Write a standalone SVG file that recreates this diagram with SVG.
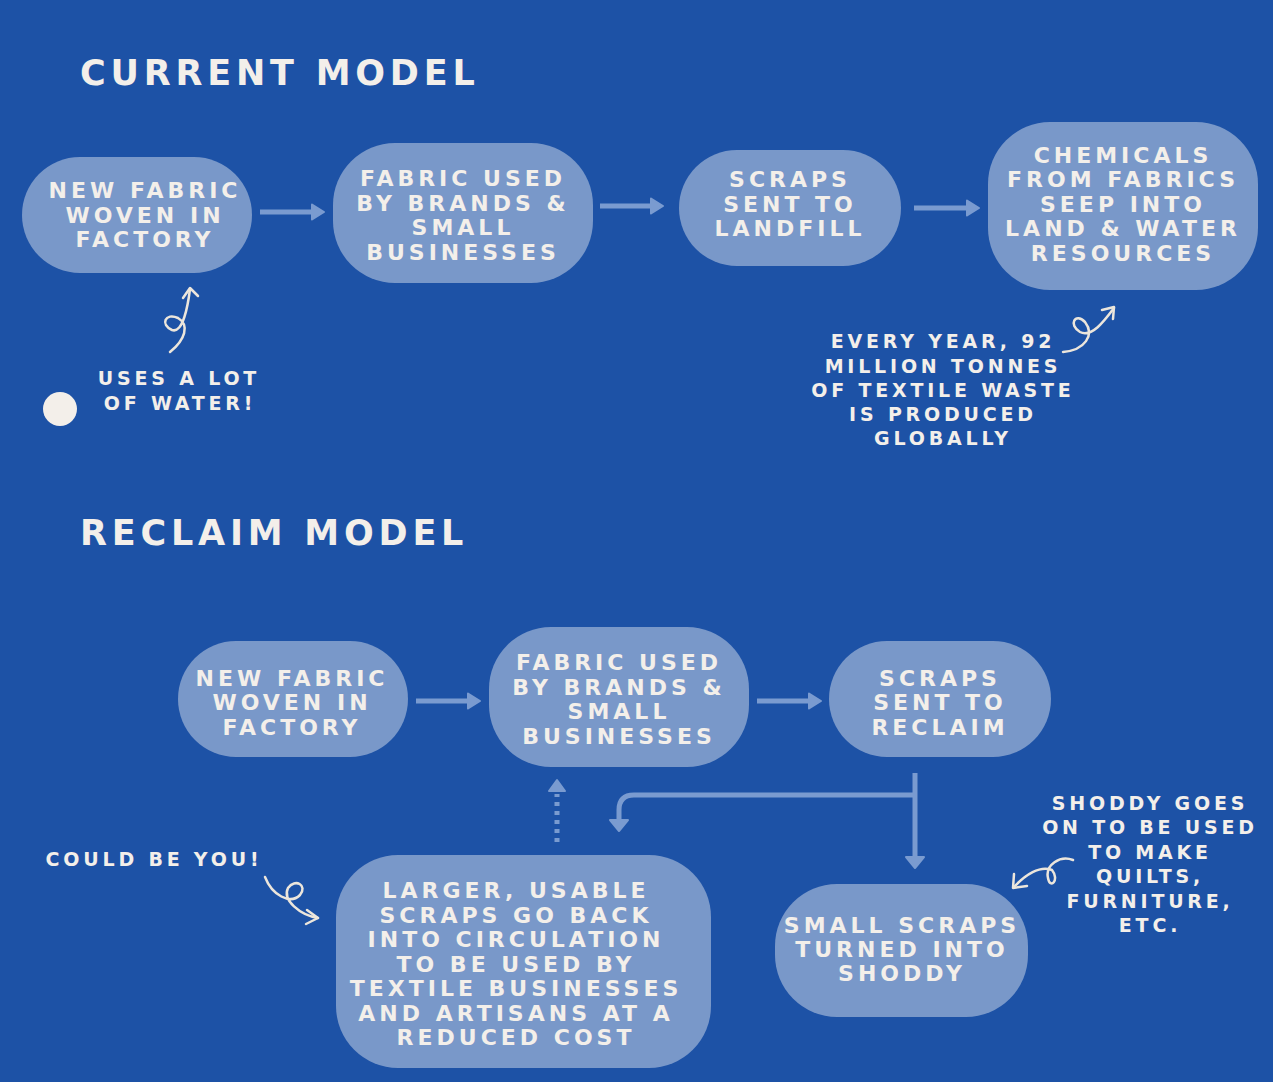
<svg xmlns="http://www.w3.org/2000/svg" width="1273" height="1082" viewBox="0 0 1273 1082">
<style>
.node{fill:#7998c9}
.nt{font-family:"DejaVu Sans","Liberation Sans",sans-serif;font-weight:bold;font-size:22px;letter-spacing:4px;fill:#f3efea;text-anchor:middle}
.title{font-family:"DejaVu Sans","Liberation Sans",sans-serif;font-weight:bold;font-size:35px;letter-spacing:4.8px;fill:#f3efea}
.hand{font-family:"DejaVu Sans","Liberation Sans",sans-serif;font-weight:bold;font-size:19px;letter-spacing:3.8px;fill:#f3efea;text-anchor:middle}
.conn{stroke:#7a9bd0;fill:none;stroke-width:5}
.curl{stroke:#ece6dc;fill:none;stroke-width:2.5;stroke-linecap:round;stroke-linejoin:round}
</style>
<defs>
<marker id="ah" markerUnits="userSpaceOnUse" markerWidth="16" markerHeight="18" refX="2" refY="9" orient="auto">
<path d="M1,1.5 L13,9 L1,16.5 Z" fill="#7a9bd0" stroke="#7a9bd0" stroke-width="2" stroke-linejoin="round"/>
</marker>
</defs>
<rect x="0" y="0" width="1273" height="1082" fill="#1d52a6"/>
<text class="title" x="80" y="85">CURRENT MODEL</text>
<text class="title" x="80" y="545">RECLAIM MODEL</text>

<g id="c1"><rect class="node" x="22" y="157" width="230" height="116" rx="58"/>
<text class="nt" x="145" y="198">NEW FABRIC</text><text class="nt" x="145" y="223">WOVEN IN</text><text class="nt" x="145" y="247">FACTORY</text></g>
<g id="c2"><rect class="node" x="333" y="143" width="260" height="140" rx="62"/>
<text class="nt" x="463" y="186">FABRIC USED</text><text class="nt" x="463" y="211">BY BRANDS &amp;</text><text class="nt" x="463" y="235">SMALL</text><text class="nt" x="463" y="260">BUSINESSES</text></g>
<g id="c3"><rect class="node" x="679" y="150" width="222" height="116" rx="58"/>
<text class="nt" x="790" y="187">SCRAPS</text><text class="nt" x="790" y="212">SENT TO</text><text class="nt" x="790" y="236">LANDFILL</text></g>
<g id="c4"><rect class="node" x="988" y="122" width="270" height="168" rx="62"/>
<text class="nt" x="1123" y="163">CHEMICALS</text><text class="nt" x="1123" y="187">FROM FABRICS</text><text class="nt" x="1123" y="212">SEEP INTO</text><text class="nt" x="1123" y="236">LAND &amp; WATER</text><text class="nt" x="1123" y="261">RESOURCES</text></g>

<g id="r1"><rect class="node" x="178" y="641" width="230" height="116" rx="58"/>
<text class="nt" x="292" y="686">NEW FABRIC</text><text class="nt" x="292" y="710">WOVEN IN</text><text class="nt" x="292" y="735">FACTORY</text></g>
<g id="r2"><rect class="node" x="489" y="627" width="260" height="140" rx="62"/>
<text class="nt" x="619" y="670">FABRIC USED</text><text class="nt" x="619" y="695">BY BRANDS &amp;</text><text class="nt" x="619" y="719">SMALL</text><text class="nt" x="619" y="744">BUSINESSES</text></g>
<g id="r3"><rect class="node" x="829" y="641" width="222" height="116" rx="58"/>
<text class="nt" x="940" y="686">SCRAPS</text><text class="nt" x="940" y="710">SENT TO</text><text class="nt" x="940" y="735">RECLAIM</text></g>
<g id="r4"><rect class="node" x="336" y="855" width="375" height="213" rx="62"/>
<text class="nt" x="516" y="898">LARGER, USABLE</text><text class="nt" x="516" y="923">SCRAPS GO BACK</text><text class="nt" x="516" y="947">INTO CIRCULATION</text><text class="nt" x="516" y="972">TO BE USED BY</text><text class="nt" x="516" y="996">TEXTILE BUSINESSES</text><text class="nt" x="516" y="1021">AND ARTISANS AT A</text><text class="nt" x="516" y="1045">REDUCED COST</text></g>
<g id="r5"><rect class="node" x="775" y="884" width="253" height="133" rx="62"/>
<text class="nt" x="902" y="933">SMALL SCRAPS</text><text class="nt" x="902" y="957">TURNED INTO</text><text class="nt" x="902" y="981">SHODDY</text></g>

<g id="connectors">
<line class="conn" x1="260" y1="212" x2="313" y2="212" marker-end="url(#ah)"/>
<line class="conn" x1="600" y1="206" x2="652" y2="206" marker-end="url(#ah)"/>
<line class="conn" x1="914" y1="208" x2="968" y2="208" marker-end="url(#ah)"/>
<line class="conn" x1="416" y1="701" x2="469" y2="701" marker-end="url(#ah)"/>
<line class="conn" x1="757" y1="701" x2="810" y2="701" marker-end="url(#ah)"/>
<line class="conn" x1="557" y1="842" x2="557" y2="794" stroke-dasharray="4,5"/>
<path d="M549,791 L557,780 L565,791 Z" fill="#7a9bd0" stroke="#7a9bd0" stroke-width="2" stroke-linejoin="round"/>
<line class="conn" x1="915" y1="773" x2="915" y2="857" stroke-width="4"/>
<path d="M906,857 L915,868 L924,857 Z" fill="#7a9bd0" stroke="#7a9bd0" stroke-width="2" stroke-linejoin="round"/>
<path class="conn" stroke-width="4" d="M915,795 L634,795 Q619,795 619,810 L619,820"/>
<path d="M610,820 L619,831 L628,820 Z" fill="#7a9bd0" stroke="#7a9bd0" stroke-width="2" stroke-linejoin="round"/>
</g>

<g id="notes">
<circle cx="60" cy="409" r="17" fill="#f3efea"/>
<text class="hand" x="179" y="385">USES A LOT</text>
<text class="hand" x="180" y="410">OF WATER!</text>
<path class="curl" d="M170,352 C185,340 190,325 178,318 C165,312 160,325 172,330 C183,334 188,305 190,289"/>
<path class="curl" d="M183,298 L190,288 L198,296"/>
<text class="hand" x="943" y="348">EVERY YEAR, 92</text>
<text class="hand" x="943" y="373">MILLION TONNES</text>
<text class="hand" x="943" y="397">OF TEXTILE WASTE</text>
<text class="hand" x="943" y="421">IS PRODUCED</text>
<text class="hand" x="943" y="445">GLOBALLY</text>
<path class="curl" d="M1063,352 C1085,350 1095,335 1085,322 C1075,312 1068,325 1080,332 C1092,338 1105,320 1114,308"/>
<path class="curl" d="M1102,310 L1114,307 L1113,319"/>
<text class="hand" x="154" y="866">COULD BE YOU!</text>
<path class="curl" d="M265,877 C272,895 290,905 300,895 C308,885 295,878 288,888 C282,900 300,915 318,918"/>
<path class="curl" d="M307,910 L318,918 L306,924"/>
<text class="hand" x="1150" y="810">SHODDY GOES</text>
<text class="hand" x="1150" y="834">ON TO BE USED</text>
<text class="hand" x="1150" y="859">TO MAKE</text>
<text class="hand" x="1150" y="883">QUILTS,</text>
<text class="hand" x="1150" y="908">FURNITURE,</text>
<text class="hand" x="1150" y="932">ETC.</text>
<path class="curl" d="M1073,860 C1060,855 1045,865 1048,878 C1050,890 1060,880 1052,870 C1040,865 1025,875 1014,887"/>
<path class="curl" d="M1014,874 L1013,888 L1027,886"/>
</g>
</svg>
